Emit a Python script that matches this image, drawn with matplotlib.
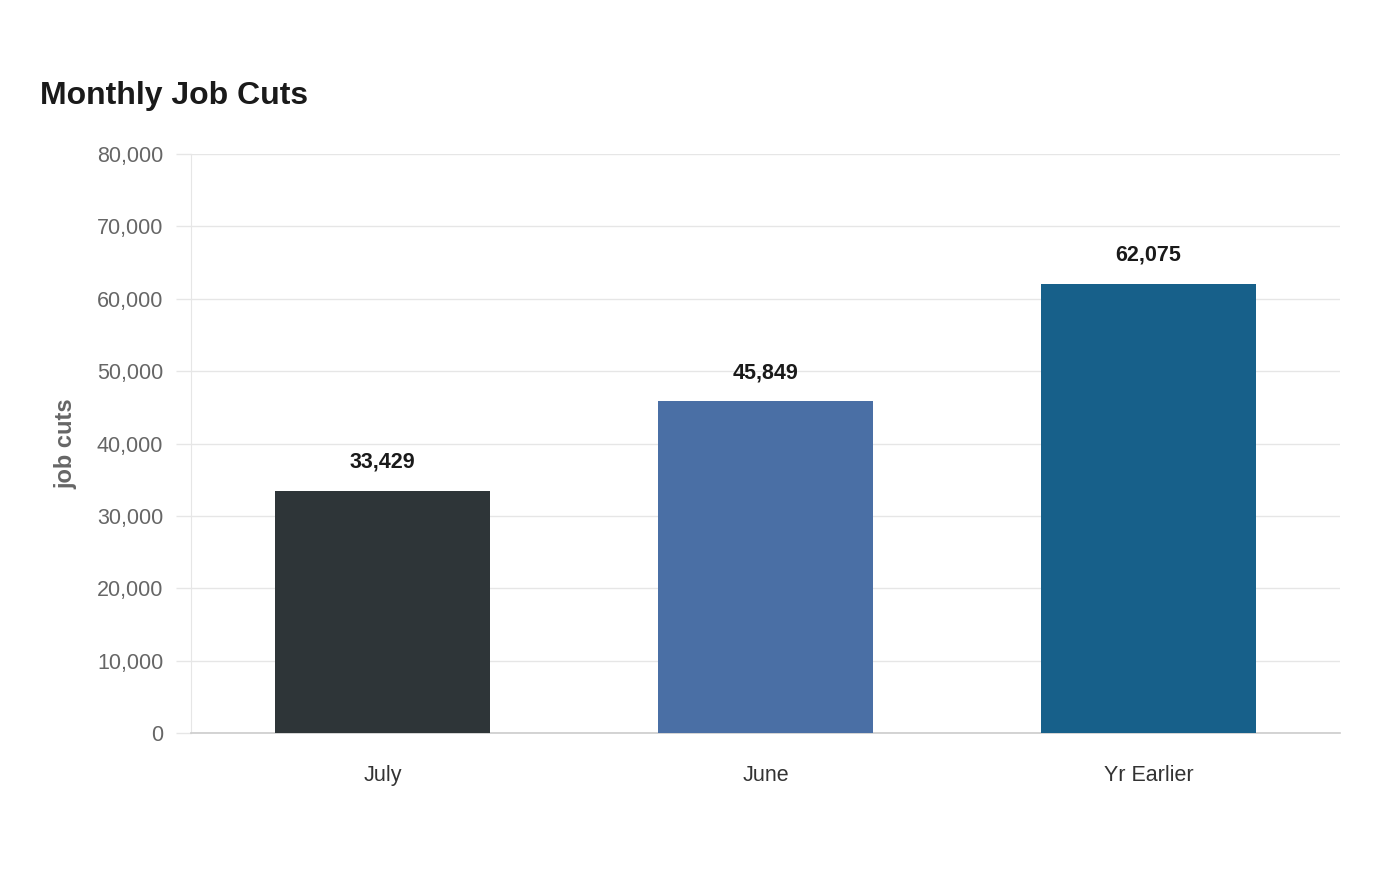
import matplotlib.pyplot as plt

plt.rcParams['font.family'] = ['Liberation Sans', 'DejaVu Sans']

# data
categories = ['July', 'June', 'Yr Earlier']
job_cuts = [33429, 45849, 62075]
bar_colors = ['#2e3538', '#4a6fa5', '#17608a']
y_ticks = [0, 10000, 20000, 30000, 40000, 50000, 60000, 70000, 80000]

fig = plt.figure(figsize=(14, 8.8), dpi=100)
ax = fig.add_axes([191 / 1400, 1 - 733 / 880, 1149 / 1400, 579 / 880])

bar_w = 0.56
for i, (v, c) in enumerate(zip(job_cuts, bar_colors)):
    ax.bar(i, v, width=bar_w, color=c, zorder=3)
    ax.text(i, v + 2500, '{:,}'.format(v), ha='center', va='bottom',
            fontsize=15.5, fontweight='bold', color='#1a1a1a')

ax.set_xlim(-0.5, 2.5)
ax.set_ylim(0, 80000)
ax.set_xticks(range(len(categories)))
ax.set_xticklabels(categories, fontsize=15.5, color='#333333')
ax.set_yticks(y_ticks)
ax.set_yticklabels(['{:,}'.format(t) for t in y_ticks], fontsize=15.5, color='#666666')
ax.tick_params(axis='x', length=0, pad=23)
ax.tick_params(axis='y', length=11, width=1, color='#e6e6e6', pad=9)

ax.grid(axis='y', color='#e6e6e6', linewidth=1, zorder=0)
for s in ['top', 'right']:
    ax.spines[s].set_visible(False)
ax.spines['left'].set_color('#e6e6e6')
ax.spines['bottom'].set_color('#cccccc')
ax.spines['bottom'].set_linewidth(1.2)

ax.set_ylabel('job cuts', fontsize=17, fontweight='bold', color='#666666', labelpad=14)

fig.text(40 / 1400, 1 - 96 / 880, 'Monthly Job Cuts', fontsize=23, fontweight='bold',
         color='#1a1a1a', ha='left', va='center')

fig.savefig('out.png', dpi=100)
